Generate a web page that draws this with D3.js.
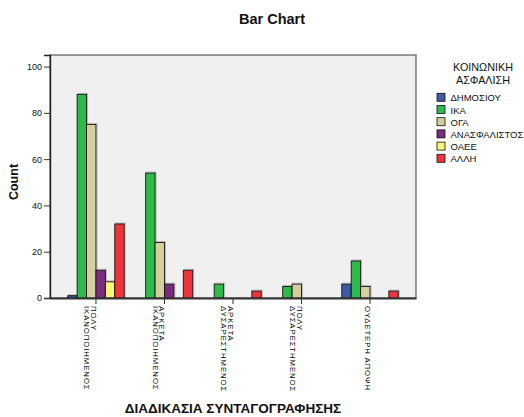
<!DOCTYPE html>
<html>
<head>
<meta charset="utf-8">
<script src="https://cdn.jsdelivr.net/npm/d3@7"></script>
<style>
  html, body { margin: 0; padding: 0; background: #fff; }
  svg { display: block; font-family: "Liberation Sans", Arial, sans-serif; }
</style>
</head>
<body>
<div id="chart"></div>
<script>
const categories = ["ΠΟΛΥ ΙΚΑΝΟΠΟΙΗΜΕΝΟΣ", "ΑΡΚΕΤΑ ΙΚΑΝΟΠΟΙΗΜΕΝΟΣ", "ΑΡΚΕΤΑ ΔΥΣΑΡΕΣΤΗΜΕΝΟΣ", "ΠΟΛΥ ΔΥΣΑΡΕΣΤΗΜΕΝΟΣ", "ΟΥΔΕΤΕΡΗ ΑΠΟΨΗ"];
const categoryLines = [["ΠΟΛΥ", "ΙΚΑΝΟΠΟΙΗΜΕΝΟΣ"], ["ΑΡΚΕΤΑ", "ΙΚΑΝΟΠΟΙΗΜΕΝΟΣ"], ["ΑΡΚΕΤΑ", "ΔΥΣΑΡΕΣΤΗΜΕΝΟΣ"], ["ΠΟΛΥ", "ΔΥΣΑΡΕΣΤΗΜΕΝΟΣ"], ["ΟΥΔΕΤΕΡΗ ΑΠΟΨΗ"]];
const seriesNames = ["ΔΗΜΟΣΙΟΥ", "ΙΚΑ", "ΟΓΑ", "ΑΝΑΣΦΑΛΙΣΤΟΣ", "ΟΑΕΕ", "ΑΛΛΗ"];
const seriesColors = ["#3d59a9", "#2eba4a", "#d4cf9c", "#7a2a80", "#faf772", "#ee333a"];
const dimosiou = [1, 0, 0, 0, 6];
const ika = [88, 54, 6, 5, 16];
const oga = [75, 24, 0, 6, 5];
const anasfalistos = [12, 6, 0, 0, 0];
const oaee = [7, 0, 0, 0, 0];
const alli = [32, 12, 3, 0, 3];
const seriesValues = [dimosiou, ika, oga, anasfalistos, oaee, alli];
const yTicks = [0, 20, 40, 60, 80, 100];
const chartTitle = "Bar Chart";
const xTitle = "ΔΙΑΔΙΚΑΣΙΑ ΣΥΝΤΑΓΟΓΡΑΦΗΣΗΣ";
const yTitle = "Count";
const legendTitle = ["ΚΟΙΝΩΝΙΚΗ", "ΑΣΦΑΛΙΣΗ"];

const W = 524, H = 417;
const L = 50, R = 416, T = 55, B = 298;

const svg = d3.select("#chart").append("svg").attr("width", W).attr("height", H);

const x0 = d3.scaleBand().domain(categories).range([L, R]).paddingInner(0).paddingOuter(0.171);
const x1 = d3.scaleBand().domain(seriesNames).range([0, x0.bandwidth()]).paddingInner(0).paddingOuter(0.64);
const y = d3.scaleLinear().domain([0, 105]).range([B, T]);

// plot background
svg.append("rect").attr("x", L).attr("y", T).attr("width", R - L).attr("height", B - T)
  .attr("fill", "#f0f0f0").attr("stroke", "#5a5a5a").attr("stroke-width", 1.2);

// bars
const data = [];
categories.forEach((c, ci) => {
  seriesNames.forEach((s, si) => {
    const v = seriesValues[si][ci];
    if (v > 0) data.push({ c, s, v, color: seriesColors[si] });
  });
});
const bars = svg.append("g");
bars.selectAll("rect.shadow").data(data).join("rect").attr("class", "shadow")
  .attr("x", d => x0(d.c) + x1(d.s) + 1)
  .attr("y", d => y(d.v) - 1)
  .attr("width", x1.bandwidth())
  .attr("height", d => B - y(d.v) + 1)
  .attr("fill", "none").attr("stroke", "#9a9a9a").attr("stroke-opacity", 0.6).attr("stroke-width", 1);
bars.selectAll("rect.bar").data(data).join("rect").attr("class", "bar")
  .attr("x", d => x0(d.c) + x1(d.s))
  .attr("y", d => y(d.v))
  .attr("width", x1.bandwidth())
  .attr("height", d => B - y(d.v))
  .attr("fill", d => d.color).attr("stroke", "#111").attr("stroke-width", 0.9);

// y axis
const yAxis = svg.append("g").attr("transform", `translate(${L},0)`)
  .call(d3.axisLeft(y).tickValues(yTicks).tickSize(6).tickPadding(2).tickFormat(d3.format("d")));
yAxis.select(".domain").attr("stroke", "#222").attr("stroke-width", 1.4);
yAxis.selectAll(".tick line").attr("stroke", "#333");
yAxis.selectAll(".tick text").attr("font-size", 9).attr("fill", "#111")
  .attr("font-family", "Liberation Sans, Arial, sans-serif");

// x axis
const xAxis = svg.append("g").attr("transform", `translate(0,${B})`)
  .call(d3.axisBottom(x0).tickSize(6).tickSizeOuter(0));
xAxis.select(".domain").attr("stroke", "#333").attr("stroke-width", 2.2);
xAxis.selectAll(".tick line").attr("stroke", "#333");
xAxis.selectAll(".tick text").remove();
xAxis.selectAll(".tick").each(function(d) {
  const ci = categories.indexOf(d);
  const t = d3.select(this).append("text")
    .attr("transform", "rotate(90)")
    .attr("text-anchor", "start")
    .attr("font-size", 7.8)
    .attr("letter-spacing", "0.9px")
    .attr("fill", "#000")
    .attr("font-family", "Liberation Sans, Arial, sans-serif");
  categoryLines[ci].forEach((line, li) => {
    t.append("tspan").attr("x", 8).attr("y", 5 + li * 6.8).text(line);
  });
});

// titles
svg.append("text").attr("x", 272).attr("y", 24).attr("text-anchor", "middle")
  .attr("font-size", 14.5).attr("font-weight", "bold").attr("fill", "#111").text(chartTitle);
svg.append("text").attr("x", (L + R) / 2).attr("y", 413).attr("text-anchor", "middle")
  .attr("font-size", 13.5).attr("font-weight", "bold").attr("fill", "#111").text(xTitle);
svg.append("text").attr("transform", "translate(18,182) rotate(-90)").attr("text-anchor", "middle")
  .attr("font-size", 12.5).attr("font-weight", "bold").attr("fill", "#111").text(yTitle);

// legend
const lg = svg.append("g");
legendTitle.forEach((t, i) => {
  lg.append("text").attr("x", 483).attr("y", 71 + i * 12.8).attr("text-anchor", "middle")
    .attr("font-size", 10.8).attr("fill", "#111").text(t);
});
seriesNames.forEach((s, i) => {
  const yy = 93.3 + i * 12.2;
  lg.append("rect").attr("x", 437).attr("y", yy).attr("width", 8).attr("height", 8)
    .attr("fill", seriesColors[i]).attr("stroke", "#111").attr("stroke-width", 0.8);
  lg.append("text").attr("x", 450.5).attr("y", yy + 8).attr("font-size", 9.5)
    .attr("fill", "#111").text(s);
});
</script>
</body>
</html>
